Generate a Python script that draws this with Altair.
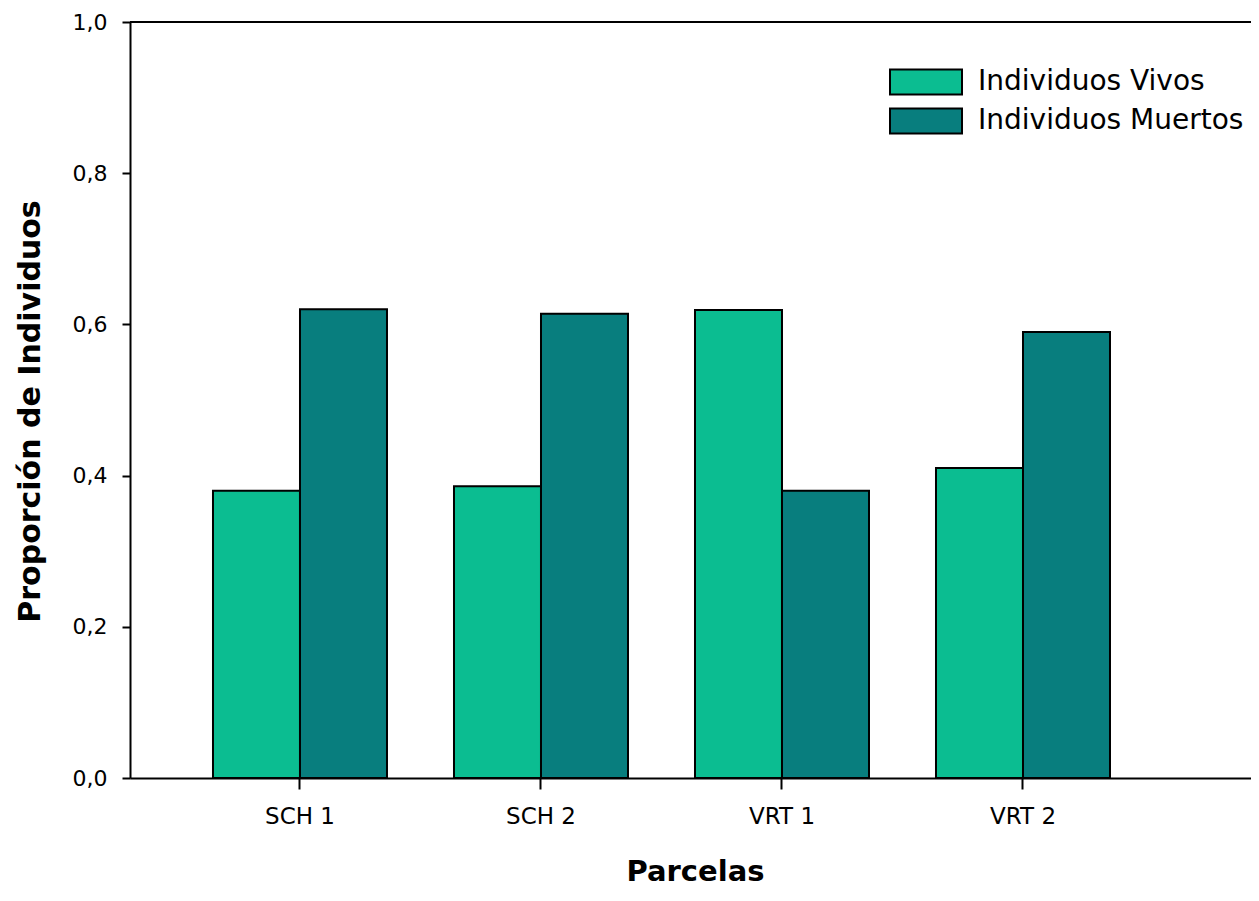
import altair as alt
import pandas as pd

parcelas = ["SCH 1", "SCH 2", "VRT 1", "VRT 2"]
series = ["Individuos Vivos", "Individuos Muertos"]
vivos = [0.380, 0.386, 0.619, 0.410]
muertos = [0.620, 0.614, 0.380, 0.590]
colores = ["#0bbd91", "#087e7e"]
yticks = [0.0, 0.2, 0.4, 0.6, 0.8, 1.0]

rows = []
for p, v, m in zip(parcelas, vivos, muertos):
    rows.append({"Parcela": p, "Serie": series[0], "Valor": v})
    rows.append({"Parcela": p, "Serie": series[1], "Valor": m})
df = pd.DataFrame(rows)

W, H = 1121, 756
FONT = "DejaVu Sans"

bars = alt.Chart(df).mark_bar(stroke="black", strokeWidth=2, strokeJoin="miter").encode(
    x=alt.X(
        "Parcela:N",
        sort=parcelas,
        scale=alt.Scale(paddingInner=0.278, paddingOuter=0.4647, align=0.3705),
        axis=alt.Axis(
            title="Parcelas",
            labelAngle=0,
            tickSize=11,
            tickWidth=2,
            tickColor="black",
            domainColor="black",
            domainWidth=2,
            labelFont=FONT,
            labelFontSize=23,
            labelColor="black",
            labelPadding=16,
            titleFont=FONT,
            titleFontSize=29,
            titleFontWeight="bold",
            titleColor="black",
            titleX=(695 - 130),
            titleY=102,
            titleBaseline="alphabetic",
        ),
    ),
    xOffset=alt.XOffset("Serie:N", sort=series, scale=alt.Scale(paddingInner=0, paddingOuter=0)),
    y=alt.Y(
        "Valor:Q",
        scale=alt.Scale(domain=[0, 1], nice=False),
        axis=alt.Axis(
            title="Proporción de Individuos",
            values=yticks,
            labelExpr="replace(format(datum.value, '.1f'), '.', ',')",
            tickSize=8,
            tickWidth=2,
            tickColor="black",
            domainColor="black",
            domainWidth=2,
            labelFont=FONT,
            labelFontSize=22,
            labelColor="black",
            labelPadding=15,
            grid=False,
            titleFont=FONT,
            titleFontSize=30,
            titleFontWeight="bold",
            titleColor="black",
            titleX=-85,
            titleY=389,
        ),
    ),
    color=alt.Color(
        "Serie:N",
        sort=series,
        scale=alt.Scale(domain=series, range=colores),
        legend=alt.Legend(
            title=None,
            orient="none",
            legendX=777,
            legendY=41,
            padding=0,
            symbolType="M-2,-0.7H2V0.7H-2Z",
            symbolSize=1296,
            symbolStrokeWidth=2,
            symbolStrokeColor="black",
            symbolOpacity=1,
            labelFont=FONT,
            labelFontSize=28,
            labelColor="black",
            labelOffset=33,
            labelLimit=500,
            rowPadding=3,
        ),
    ),
)

top_df = pd.DataFrame({"Valor": [1.0]})
top = alt.Chart(top_df).mark_rule(color="black", strokeWidth=2).encode(
    y=alt.Y("Valor:Q"),
    x=alt.value(0),
    x2=alt.value(W),
)

chart = alt.layer(bars, top).properties(
    width=W,
    height=H,
    autosize=alt.AutoSizeParams(type="none"),
    padding={"left": 122, "top": 14, "right": 0, "bottom": 110},
    background="white",
).configure_view(stroke=None)

chart.save("out.html", embed_options={"renderer": "svg", "actions": False})
